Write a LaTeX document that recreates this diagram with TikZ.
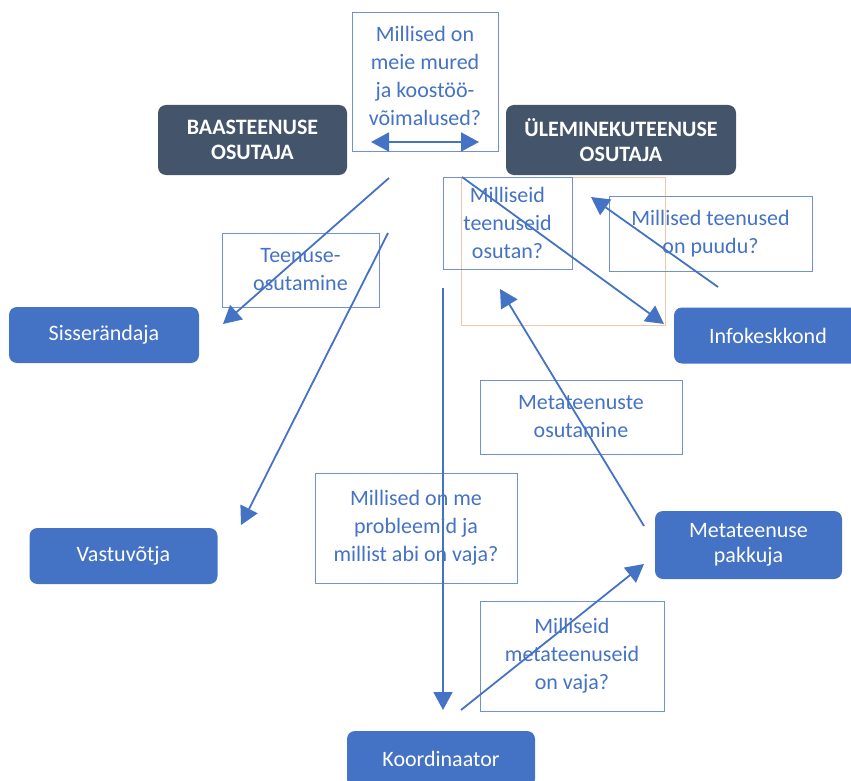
\documentclass[tikz,border=0pt]{standalone}
\usepackage{fontspec}
\setmainfont{Carlito}
\usetikzlibrary{arrows.meta,positioning}
\definecolor{slateblue}{RGB}{68,84,106}
\definecolor{officeblue}{RGB}{68,114,196}
\definecolor{boxline}{RGB}{112,146,212}
\definecolor{peach}{RGB}{246,196,166}
\tikzset{
  role/.style={rectangle, rounded corners=8pt, fill=officeblue, text=white, align=center,
               minimum width=189pt, minimum height=56pt, inner sep=0pt, font=\fontsize{22}{25}\selectfont},
  actor/.style={role, fill=slateblue, minimum height=70pt, font=\fontsize{22}{25}\selectfont\bfseries},
  question/.style={rectangle, draw=boxline, line width=0.9pt, text=officeblue, align=center,
               inner sep=0pt, font=\fontsize{22}{28}\selectfont},
  questiontext/.style={question, draw=none},
  flow/.style={-{Triangle[length=18pt,width=19pt]}, line width=1.8pt, officeblue},
  flowboth/.style={{Triangle[length=18pt,width=19pt]}-{Triangle[length=18pt,width=19pt]}, line width=1.8pt, officeblue},
}
\begin{document}
\begin{tikzpicture}[x=1pt,y=-1pt]
\clip (0,0) rectangle (851,781);
\node[question, minimum width=146pt, minimum height=139pt] (mured) at (425,81.5) {};
\node[questiontext] (muredtext) at (425,75.5) {Millised on\\meie mured\\ja koostöö-\\võimalused?};
\node[actor, minimum width=189pt] (baas) at (252.5,140) {BAASTEENUSE\\OSUTAJA};
\node[actor, minimum width=230pt] (ylem) at (621,140) {ÜLEMINEKUTEENUSE\\OSUTAJA};
\node[draw=peach, line width=1pt, minimum width=204pt, minimum height=148pt, inner sep=0pt] (fookus) at (563,251) {};
\node[question, minimum width=129pt, minimum height=92pt] (osutan) at (507.5,223) {Milliseid\\teenuseid\\osutan?};
\node[question, minimum width=203pt, minimum height=75pt] (puudu) at (710.5,233.5) {Millised teenused\\on puudu?};
\node[question, minimum width=157pt, minimum height=74pt] (osutamine) at (300.5,270) {Teenuse-\\osutamine};
\node[role, minimum width=190pt] (siss) at (104,335) {Sisserändaja};
\node[role, minimum width=188pt] (info) at (768,335.5) {Infokeskkond};
\node[question, minimum width=202pt, minimum height=74pt] (metaosut) at (581,417) {Metateenuste\\osutamine};
\node[question, minimum width=202pt, minimum height=110pt] (probleem) at (416,528) {Millised on me\\probleemid ja\\millist abi on vaja?};
\node[role, minimum width=187pt, minimum height=68pt] (pakkuja) at (748.5,545) {Metateenuse\\pakkuja};
\node[role, minimum width=188pt] (vastu) at (123.5,556) {Vastuvõtja};
\node[question, minimum width=184pt, minimum height=110pt] (metavaja) at (572,656) {Milliseid\\metateenuseid\\on vaja?};
\node[role, minimum width=188pt] (koord) at (441,759) {Koordinaator};
\coordinate (ml) at (371,142);
\coordinate (mr) at (479,142);
\coordinate (s0) at (389,178);
\coordinate (s1) at (223,324);
\coordinate (v0) at (388,233);
\coordinate (v1) at (241,525);
\coordinate (k0) at (443,288);
\coordinate (k1) at (443,710);
\coordinate (p0) at (461,710);
\coordinate (p1) at (644,564);
\coordinate (o0) at (644,526);
\coordinate (o1) at (500,289);
\coordinate (i0) at (462,177);
\coordinate (i1) at (664,324);
\coordinate (u0) at (718,287);
\coordinate (u1) at (591,197);
\draw[flowboth] (ml) -- (mr);
\foreach \a/\b in {s0/s1, v0/v1, k0/k1, p0/p1, o0/o1, i0/i1, u0/u1}
  \draw[flow] (\a) -- (\b);
\end{tikzpicture}
\end{document}
